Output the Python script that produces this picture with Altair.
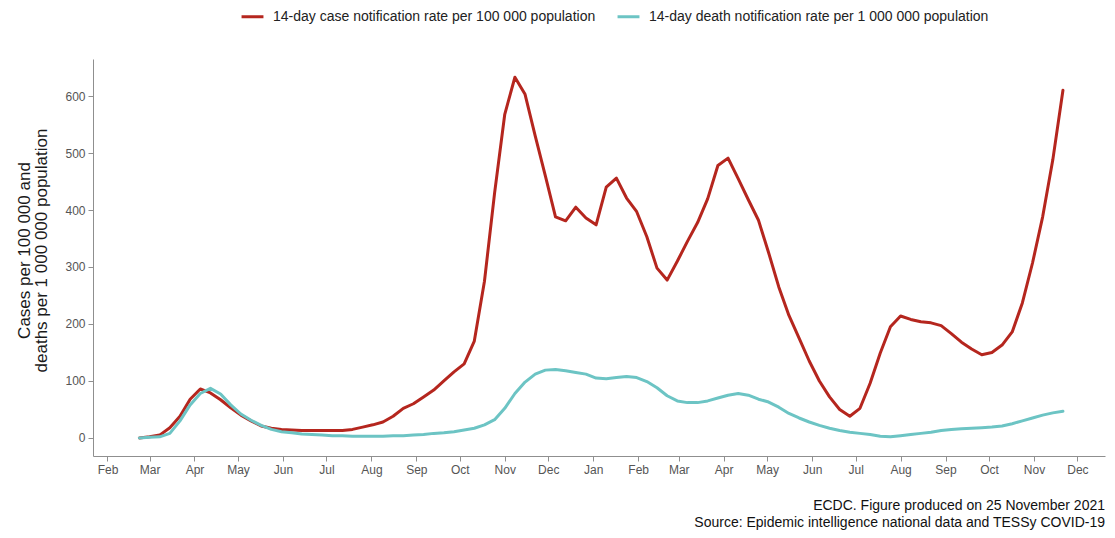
import altair as alt
import pandas as pd

# Weekly reporting dates (week ending Sunday)
dates = [
    "2020-02-23",
    "2020-03-01", "2020-03-08", "2020-03-15", "2020-03-22", "2020-03-29",
    "2020-04-05", "2020-04-12", "2020-04-19", "2020-04-26",
    "2020-05-03", "2020-05-10", "2020-05-17", "2020-05-24", "2020-05-31",
    "2020-06-07", "2020-06-14", "2020-06-21", "2020-06-28",
    "2020-07-05", "2020-07-12", "2020-07-19", "2020-07-26",
    "2020-08-02", "2020-08-09", "2020-08-16", "2020-08-23", "2020-08-30",
    "2020-09-06", "2020-09-13", "2020-09-20", "2020-09-27",
    "2020-10-04", "2020-10-11", "2020-10-18", "2020-10-25",
    "2020-11-01", "2020-11-08", "2020-11-15", "2020-11-22", "2020-11-29",
    "2020-12-06", "2020-12-13", "2020-12-20", "2020-12-27",
    "2021-01-03", "2021-01-10", "2021-01-17", "2021-01-24", "2021-01-31",
    "2021-02-07", "2021-02-14", "2021-02-21", "2021-02-28",
    "2021-03-07", "2021-03-14", "2021-03-21", "2021-03-28",
    "2021-04-04", "2021-04-11", "2021-04-18", "2021-04-25",
    "2021-05-02", "2021-05-09", "2021-05-16", "2021-05-23", "2021-05-30",
    "2021-06-06", "2021-06-13", "2021-06-20", "2021-06-27",
    "2021-07-04", "2021-07-11", "2021-07-18", "2021-07-25",
    "2021-08-01", "2021-08-08", "2021-08-15", "2021-08-22", "2021-08-29",
    "2021-09-05", "2021-09-12", "2021-09-19", "2021-09-26",
    "2021-10-03", "2021-10-10", "2021-10-17", "2021-10-24", "2021-10-31",
    "2021-11-07", "2021-11-14", "2021-11-21",
]

# 14-day case notification rate per 100 000
case_rate = [
    0, 2, 5, 18, 38, 68, 86, 79, 67, 53,
    40, 30, 21, 17, 15, 14, 13, 13, 13, 13,
    13, 15, 19, 23, 28, 38, 52, 60, 72, 84,
    100, 116, 130, 170, 275, 430, 568, 633, 603, 530,
    460, 388, 381, 405, 386, 374, 440, 456, 421, 397,
    353, 298, 277, 310, 345, 378, 420, 478, 491, 455,
    418, 382, 325, 265, 215, 175, 135, 100, 72, 50,
    38, 52, 96, 149, 195, 214, 208, 204, 202, 197,
    183, 168, 156, 146, 150, 163, 186, 237, 307, 388,
    488, 610,
]

# 14-day death notification rate per 1 000 000
death_rate = [
    0, 1, 2, 8, 30, 58, 78, 87, 77, 58,
    42, 31, 22, 15, 11, 9, 7, 6, 5, 4,
    4, 3, 3, 3, 3, 4, 4, 5, 6, 8,
    9, 11, 14, 17, 23, 32, 52, 78, 98, 112,
    119, 120, 118, 115, 112, 105, 104, 106, 108, 106,
    99, 88, 74, 65, 62, 62, 65, 70, 75, 78,
    75, 68, 63, 54, 43, 35, 28, 22, 17, 13,
    10, 8, 6, 3, 2, 4, 6, 8, 10, 13,
    15, 16, 17, 18, 19, 21, 25, 30, 35, 40,
    44, 47,
]

series_labels = [
    "14-day case notification rate per 100 000 population",
    "14-day death notification rate per 1 000 000 population",
]
series_colors = ["#B5261E", "#6CC4C4"]
y_ticks = [0, 100, 200, 300, 400, 500, 600]
y_title = ["Cases per 100 000 and", "deaths per 1 000 000 population"]
caption = [
    "ECDC. Figure produced on 25 November 2021",
    "Source: Epidemic intelligence national data and TESSy COVID-19",
]

df = pd.concat([
    pd.DataFrame({"date": dates, "value": case_rate, "series": series_labels[0]}),
    pd.DataFrame({"date": dates, "value": death_rate, "series": series_labels[1]}),
], ignore_index=True)

FONT = "Liberation Sans"
AXIS_GREY = "#8f8f8f"

chart = alt.Chart(df).mark_line(strokeWidth=3, strokeJoin="round", strokeCap="round").encode(
    x=alt.X(
        "date:T",
        scale=alt.Scale(
            type="utc",
            domain=[
                alt.DateTime(year=2020, month=1, date=22, utc=True),
                alt.DateTime(year=2021, month=12, date=20, utc=True),
            ],
        ),
        axis=alt.Axis(
            title=None,
            format="%b",
            tickCount={"interval": "month", "step": 1},
            labelPadding=3,
        ),
    ),
    y=alt.Y(
        "value:Q",
        scale=alt.Scale(domain=[-31.7, 665], nice=False, zero=False),
        axis=alt.Axis(
            values=y_ticks,
            title=y_title,
            titlePadding=14,
            titleY=191,
            titleFontSize=17,
            titleLineHeight=17,
        ),
    ),
    color=alt.Color(
        "series:N",
        sort=series_labels,
        scale=alt.Scale(domain=series_labels, range=series_colors),
        legend=alt.Legend(
            title=None,
            orient="none",
            legendX=147,
            legendY=-55,
            direction="horizontal",
            symbolType="stroke",
            symbolSize=480,
            symbolStrokeWidth=3,
            labelFontSize=14,
            labelFont=FONT,
            labelColor="#222222",
            labelOffset=8,
            columnPadding=15,
            labelLimit=0,
        ),
    ),
).properties(
    width=1012,
    height=397,
    background="white",
    autosize=alt.AutoSizeParams(type="none"),
    padding={"left": 85, "top": 51, "right": 2, "bottom": 74},
    title=alt.TitleParams(
        text=caption,
        orient="bottom",
        anchor="end",
        frame="group",
        font=FONT,
        fontSize=14,
        fontWeight="normal",
        color="#111111",
        offset=24,
        lineHeight=17,
    ),
).configure_view(
    stroke=None
).configure_axis(
    grid=False,
    domainColor=AXIS_GREY,
    domainWidth=1,
    tickColor=AXIS_GREY,
    tickSize=5,
    labelFont=FONT,
    labelFontSize=12,
    labelColor="#555555",
    titleFont=FONT,
    titleFontWeight="normal",
    titleColor="#1a1a1a",
    labelPadding=3,
)

chart.save("out.html", embed_options={"renderer": "svg", "actions": False})
